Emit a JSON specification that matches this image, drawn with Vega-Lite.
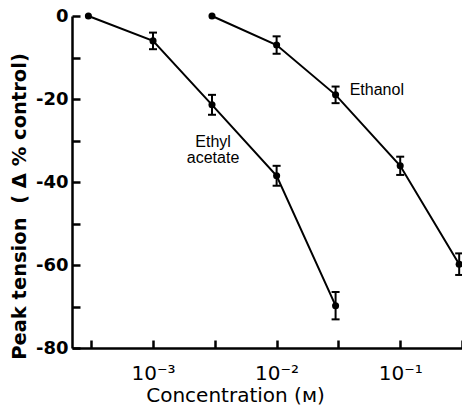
{
  "$schema": "https://vega.github.io/schema/vega-lite/v6.json",
  "width": 390,
  "height": 332,
  "autosize": {"type": "none"},
  "padding": {"left": 72, "top": 16, "right": 0, "bottom": 57},
  "background": "white",
  "config": {
    "view": {"stroke": null},
    "axis": {
      "grid": false,
      "domainColor": "black",
      "domainWidth": 2.5,
      "tickColor": "black",
      "tickWidth": 2.5,
      "labelColor": "black",
      "titleColor": "black"
    }
  },
  "datasets": {
    "pts": [
      {"series": "Ethyl acetate", "conc": 0.0003, "val": 0},
      {"series": "Ethyl acetate", "conc": 0.001, "val": -6.0, "ylo": -8.0, "yhi": -4.0},
      {"series": "Ethyl acetate", "conc": 0.003, "val": -21.4, "ylo": -23.8, "yhi": -19.0},
      {"series": "Ethyl acetate", "conc": 0.01, "val": -38.5, "ylo": -40.9, "yhi": -36.1},
      {"series": "Ethyl acetate", "conc": 0.03, "val": -69.8, "ylo": -73.1, "yhi": -66.5},
      {"series": "Ethanol", "conc": 0.003, "val": 0},
      {"series": "Ethanol", "conc": 0.01, "val": -7.0, "ylo": -9.1, "yhi": -4.9},
      {"series": "Ethanol", "conc": 0.03, "val": -19.0, "ylo": -21.0, "yhi": -17.0},
      {"series": "Ethanol", "conc": 0.1, "val": -36.1, "ylo": -38.3, "yhi": -33.9},
      {"series": "Ethanol", "conc": 0.3, "val": -59.8, "ylo": -62.4, "yhi": -57.2}
    ],
    "label_ethanol": [
      {"label": "Ethanol", "conc": 0.039, "val": -17.8}
    ],
    "label_ethyl": [
      {"label": "Ethyl\nacetate", "conc": 0.00306, "val": -30.3}
    ]
  },
  "layer": [
    {
      "data": {"name": "pts"},
      "mark": {"type": "line", "color": "black", "strokeWidth": 2},
      "encoding": {
        "x": {
          "field": "conc",
          "type": "quantitative",
          "scale": {"type": "log", "domain": [0.000221, 0.3162], "nice": false},
          "axis": {
            "title": "Concentration (ᴍ)",
            "values": [0.0003162, 0.001, 0.003162, 0.01, 0.03162, 0.1, 0.3162],
            "labelExpr": "datum.value == 0.001 ? '10⁻³' : datum.value == 0.01 ? '10⁻²' : datum.value == 0.1 ? '10⁻¹' : ''",
            "tickSize": -8,
            "labelPadding": 23,
            "labelAlign": "center",
            "labelDx": 7,
            "labelFont": "DejaVu Sans",
            "labelFontSize": 20,
            "labelFontWeight": "normal",
            "titleFont": "DejaVu Sans",
            "titleFontSize": 20,
            "titleFontWeight": "normal",
            "titlePadding": 2,
            "titleX": 163
          }
        },
        "y": {
          "field": "val",
          "type": "quantitative",
          "scale": {"domain": [-80, 0], "nice": false},
          "axis": {
            "title": "Peak tension\u00a0\u00a0(\u00a0Δ % control)",
            "values": [-80, -70, -60, -50, -40, -30, -20, -10, 0],
            "labelExpr": "datum.value % 20 == 0 ? toString(datum.value) : ''",
            "tickSize": -8,
            "labelPadding": 12,
            "labelFont": "DejaVu Sans",
            "labelFontSize": 18,
            "labelFontWeight": "bold",
            "titleFont": "DejaVu Sans",
            "titleFontSize": 19.5,
            "titleFontWeight": "bold",
            "titlePadding": 6,
            "titleY": 190
          }
        },
        "detail": {"field": "series"}
      }
    },
    {
      "data": {"name": "pts"},
      "mark": {"type": "point", "filled": true, "color": "black", "size": 50, "opacity": 1},
      "encoding": {
        "x": {"field": "conc", "type": "quantitative"},
        "y": {"field": "val", "type": "quantitative"}
      }
    },
    {
      "data": {"name": "pts"},
      "transform": [{"filter": "isValid(datum.ylo)"}],
      "mark": {"type": "rule", "color": "black", "strokeWidth": 2},
      "encoding": {
        "x": {"field": "conc", "type": "quantitative"},
        "y": {"field": "ylo", "type": "quantitative"},
        "y2": {"field": "yhi"}
      }
    },
    {
      "data": {"name": "pts"},
      "transform": [{"filter": "isValid(datum.ylo)"}],
      "mark": {"type": "tick", "orient": "horizontal", "color": "black", "size": 8, "thickness": 2, "opacity": 1},
      "encoding": {
        "x": {"field": "conc", "type": "quantitative"},
        "y": {"field": "ylo", "type": "quantitative"}
      }
    },
    {
      "data": {"name": "pts"},
      "transform": [{"filter": "isValid(datum.yhi)"}],
      "mark": {"type": "tick", "orient": "horizontal", "color": "black", "size": 8, "thickness": 2, "opacity": 1},
      "encoding": {
        "x": {"field": "conc", "type": "quantitative"},
        "y": {"field": "yhi", "type": "quantitative"}
      }
    },
    {
      "data": {"name": "label_ethanol"},
      "mark": {"type": "text", "font": "Liberation Sans", "fontSize": 16, "align": "left", "baseline": "middle", "color": "black"},
      "encoding": {
        "x": {"field": "conc", "type": "quantitative"},
        "y": {"field": "val", "type": "quantitative"},
        "text": {"field": "label"}
      }
    },
    {
      "data": {"name": "label_ethyl"},
      "mark": {"type": "text", "font": "Liberation Sans", "fontSize": 16, "align": "center", "baseline": "middle", "lineBreak": "\n", "lineHeight": 16, "color": "black"},
      "encoding": {
        "x": {"field": "conc", "type": "quantitative"},
        "y": {"field": "val", "type": "quantitative"},
        "text": {"field": "label"}
      }
    }
  ]
}
